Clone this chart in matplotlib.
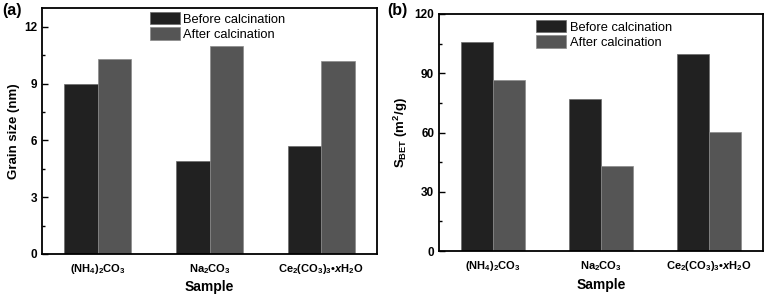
import matplotlib
matplotlib.use("Agg")
import matplotlib.pyplot as plt
import numpy as np

plt.rcParams['font.family'] = ['Liberation Sans', 'DejaVu Sans']
plt.rcParams['mathtext.fontset'] = 'custom'
plt.rcParams['mathtext.rm'] = 'Liberation Sans:bold'
plt.rcParams['mathtext.bf'] = 'Liberation Sans:bold'
plt.rcParams['mathtext.it'] = 'Liberation Sans:bold:italic'
plt.rcParams['mathtext.default'] = 'rm'

samples = [r'(NH$_4$)$_2$CO$_3$', r'Na$_2$CO$_3$', r'Ce$_2$(CO$_3$)$_3$•$\mathit{x}$H$_2$O']
series_names = ['Before calcination', 'After calcination']
grain_before = [9.0, 4.9, 5.7]
grain_after = [10.3, 11.0, 10.2]
sbet_before = [106, 77, 100]
sbet_after = [86.5, 43, 60.5]

c_before = '#212121'
c_after = '#555555'

fig = plt.figure(figsize=(7.66, 3.0), dpi=100)
ax1 = fig.add_axes([42/766, 46/300, 335/766, 246/300])
ax2 = fig.add_axes([439/766, 49/300, 324/766, 237/300])

x = np.arange(len(samples))
w = 0.3

for ax, before, after, ylim, major, ylabel, anchor in [
    (ax1, grain_before, grain_after, (0, 13), 3, 'Grain size (nm)', (0.322, 0.984)),
    (ax2, sbet_before, sbet_after, (0, 120), 30, r'S$_{\mathregular{BET}}$ (m$^2$/g)', (0.30, 0.975)),
]:
    ax.bar(x - w/2, before, w, color=c_before, edgecolor='#6a6a6a', linewidth=0.5, label=series_names[0])
    ax.bar(x + w/2, after, w, color=c_after, edgecolor='#8a8a8a', linewidth=0.5, label=series_names[1])
    ax.set_xlim(-0.5, 2.5)
    ax.set_ylim(*ylim)
    ax.set_yticks(np.arange(0, ylim[1] + 0.01, major))
    ax.set_yticks(np.arange(major/2, ylim[1] + 0.01, major), minor=True)
    ax.set_xticks(x)
    ax.set_xticklabels(samples)
    ax.tick_params(axis='y', which='both', direction='in', left=True, right=False, labelsize=8.5)
    ax.tick_params(axis='y', which='major', length=4, width=1)
    ax.tick_params(axis='y', which='minor', length=2, width=1)
    ax.tick_params(axis='x', length=0, pad=6, labelsize=8)
    for lab in ax.get_yticklabels() + ax.get_xticklabels():
        lab.set_fontweight('bold')
    for s in ax.spines.values():
        s.set_linewidth(1.3)
    ax.set_xlabel('Sample', fontsize=10, fontweight='bold', labelpad=3)
    ax.set_ylabel(ylabel, fontsize=9.5, fontweight='bold', labelpad=3)
    ax.legend(loc='upper left', bbox_to_anchor=anchor, borderaxespad=0, borderpad=0,
              frameon=False, fontsize=9.3, handlelength=2.3, handleheight=1.1,
              labelspacing=0.15, handletextpad=0.3)

fig.text(2/766, 1 - 3/300, '(a)', fontsize=11.5, fontweight='bold', va='top', ha='left')
fig.text(387/766, 1 - 3/300, '(b)', fontsize=11.5, fontweight='bold', va='top', ha='left')

fig.savefig('out.png', dpi=100)
